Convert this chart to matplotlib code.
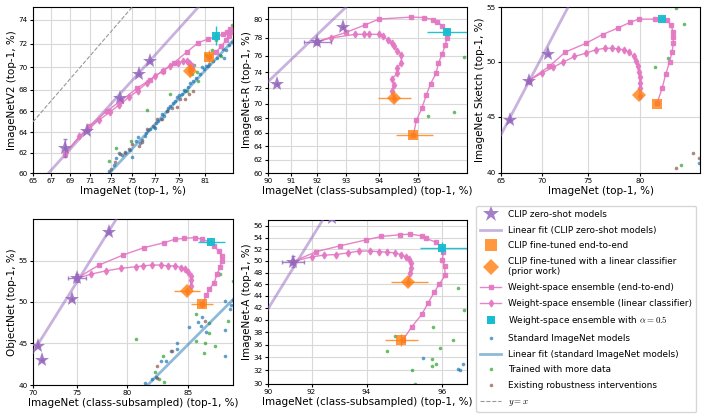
import numpy as np
import matplotlib
matplotlib.use("Agg")
from matplotlib import pyplot as plt
from matplotlib.lines import Line2D

# ---------------- data ----------------
# ImageNetV2 vs ImageNet
v2_zs_x = [68.4, 70.7, 73.9, 75.6, 76.6]
v2_zs_y = [62.5, 64.1, 67.2, 69.4, 70.5]
v2_zs_xerr = [0.1, 0, 0, 0, 0]
v2_zs_yerr = [0.9, 0, 0, 0, 0]
v2_e2e_x = [68.4, 70.9, 72.6, 74.0, 75.4, 76.6, 77.7, 78.6, 79.6, 80.5, 81.2, 81.8, 82.3, 82.6, 82.8, 82.8, 82.7, 82.5, 82.2, 81.8, 81.3]
v2_e2e_y = [61.9, 64.6, 66.0, 67.0, 68.1, 68.9, 69.7, 70.4, 71.3, 72.1, 72.4, 72.6, 72.8, 73.0, 73.2, 73.0, 72.7, 72.3, 71.8, 71.3, 70.9]
v2_lin_x = [68.4, 69.9, 70.9, 71.9, 72.9, 73.8, 74.7, 75.5, 76.3, 77.0, 77.7, 78.3, 78.9, 79.3, 79.6, 79.8, 79.9, 80.0, 80.0, 79.9, 79.9]
v2_lin_y = [61.9, 63.6, 64.4, 65.2, 65.9, 66.6, 67.3, 67.9, 68.6, 69.2, 69.7, 70.1, 70.4, 70.5, 70.5, 70.4, 70.3, 70.1, 69.9, 69.8, 69.7]
v2_ft_e2e = [81.3, 70.9, 0.2, 0.6]      # x, y, xerr, yerr
v2_ft_lin = [79.9, 69.7, 0.2, 0.6]
v2_wise = [81.8, 72.7, 0.15, 0.8]
v2_std_x = [72.8, 73.3, 73.5, 73.8, 74.1, 74.3, 74.8, 75.3, 75.5, 75.7, 75.9, 76.1, 76.2, 76.4, 76.6, 76.9, 77.1, 77.3, 77.5,
            77.6, 77.8, 78.0, 78.1, 78.3, 78.5, 78.7, 78.8, 79.0, 79.2, 79.4, 79.5, 79.7, 79.9, 80.1, 80.3, 80.6, 80.9, 81.1,
            81.3, 81.6, 81.9, 82.1, 82.3, 82.5, 82.7, 82.9, 80.8, 81.2, 82.4, 75.0, 77.0]
v2_std_y = [60.2, 60.8, 61.5, 62.0, 61.8, 62.1, 62.3, 63.2, 63.5, 63.0, 63.3, 63.6, 63.9, 64.2, 64.3, 64.5, 64.9, 65.1, 65.3,
            65.7, 65.6, 66.0, 66.3, 66.5, 66.8, 67.0, 67.3, 67.5, 67.6, 68.0, 67.9, 68.2, 68.6, 68.8, 69.0, 69.4, 69.8, 70.1,
            70.3, 70.5, 70.8, 71.1, 71.6, 71.5, 71.9, 72.2, 70.0, 70.1, 70.8, 61.6, 64.4]
v2_more_x = [72.8, 73.5, 74.9, 76.3, 78.3, 79.6, 80.2, 80.4, 80.5, 80.0, 81.1, 81.5, 82.2, 82.9, 81.8]
v2_more_y = [61.2, 62.5, 63.2, 66.1, 67.6, 67.9, 70.2, 69.6, 68.8, 69.4, 71.1, 71.5, 71.0, 73.6, 72.3]
v2_rob_x = [73.0, 73.4, 73.9, 74.3, 74.7, 75.0, 75.6, 75.9, 76.3, 76.8, 77.2, 77.6, 78.0, 78.4, 78.8, 79.1, 79.5, 79.8, 80.1]
v2_rob_y = [60.4, 61.1, 61.9, 62.0, 62.4, 62.9, 62.7, 63.1, 64.3, 64.6, 65.3, 65.3, 66.0, 66.3, 66.4, 67.1, 67.1, 67.6, 67.9]
v2_fit_clip = [0.957, -0.259]   # slope, intercept in logit space
v2_fit_std = [0.927, -0.5115]

# ImageNet-R vs ImageNet (class-subsampled)
r_zs_x = [90.4, 92.0, 92.9]
r_zs_y = [72.6, 77.6, 79.2]
r_zs_xerr = [0, 0.5, 0]
r_zs_yerr = [0, 0.3, 0]
r_e2e_x = [92.0, 93.0, 93.6, 94.0, 94.85, 95.15, 95.35, 95.45, 95.55, 95.65, 95.65, 95.62, 95.55, 95.47, 95.42, 95.3, 95.2, 95.1, 94.97, 94.9]
r_e2e_y = [77.6, 78.6, 79.4, 80.0, 80.2, 80.15, 79.95, 79.7, 79.3, 78.8, 78.0, 77.2, 76.2, 75.1, 73.9, 72.6, 71.1, 69.4, 67.7, 65.7]
r_lin_x = [92.0, 92.5, 93.3, 93.55, 93.7, 94.0, 94.1, 94.25, 94.35, 94.4, 94.5, 94.6, 94.6, 94.5, 94.5, 94.35, 94.4, 94.35, 94.4]
r_lin_y = [77.6, 78.0, 78.4, 78.4, 78.4, 78.4, 78.2, 77.8, 77.4, 77.1, 76.6, 76.1, 75.2, 74.6, 73.9, 73.2, 72.4, 71.7, 70.8]
r_ft_e2e = [94.9, 65.6, 0.45, 0.3]
r_ft_lin = [94.4, 70.8, 0.43, 0.3]
r_wise = [95.65, 78.7, 0.43, 0.3]
r_std_x, r_std_y = [], []
r_more_x = [96.0, 95.25, 95.8]
r_more_y = [75.8, 68.3, 68.9]
r_rob_x, r_rob_y = [], []
r_fit_clip = [1.221, -1.696]

# ImageNet Sketch vs ImageNet
sk_zs_x = [66.1, 68.4, 70.7]
sk_zs_y = [44.7, 48.3, 50.7]
sk_zs_xerr = [0, 0, 0]
sk_zs_yerr = [0, 0, 0]
sk_e2e_x = [68.4, 70.8, 72.6, 74.8, 76.5, 78.0, 79.1, 79.9, 81.3, 81.9, 82.3, 82.6, 82.8, 82.8, 82.8, 82.7, 82.5, 82.2, 81.9, 81.5]
sk_e2e_y = [48.3, 49.6, 50.9, 51.7, 52.5, 53.1, 53.6, 53.9, 53.9, 53.9, 53.8, 53.4, 52.7, 52.3, 51.7, 50.9, 50.0, 48.9, 47.6, 46.3]
sk_lin_x = [68.4, 70.0, 71.2, 72.4, 73.6, 74.8, 75.8, 76.7, 77.4, 78.0, 78.6, 79.05, 79.45, 79.65, 79.8, 79.9, 80.0, 80.0, 80.0, 80.0]
sk_lin_y = [48.3, 49.0, 49.5, 50.0, 50.5, 50.8, 51.1, 51.25, 51.25, 51.2, 51.1, 50.9, 50.5, 50.1, 49.6, 49.1, 48.6, 48.1, 47.6, 46.9]
sk_ft_e2e = [81.5, 46.2, 0, 0]
sk_ft_lin = [79.9, 47.0, 0, 0]
sk_wise = [81.9, 53.9, 0, 0]
sk_std_x = [84.7]
sk_std_y = [40.9]
sk_more_x = [83.0, 83.6, 82.4, 81.3, 83.4]
sk_more_y = [54.9, 53.5, 50.4, 49.5, 40.7]
sk_rob_x = [83.0, 84.3, 84.7]
sk_rob_y = [40.4, 41.8, 41.3]
sk_fit_clip = [1.2565, -1.0435]

# ObjectNet vs ImageNet (class-subsampled)
on_zs_x = [70.6, 71.1, 74.5, 75.0, 78.3]
on_zs_y = [44.7, 43.0, 50.4, 52.9, 58.5]
on_zs_xerr = [0, 0, 0, 1.0, 0]
on_zs_yerr = [0, 0, 0, 0.5, 0]
on_e2e_x = [75.0, 77.3, 79.6, 81.5, 83.2, 84.0, 84.7, 85.5, 86.0, 86.5, 86.8, 87.1, 87.3, 87.3, 87.2, 87.0, 86.8, 86.5, 86.3, 86.0]
on_e2e_y = [52.9, 54.5, 55.7, 56.6, 57.2, 57.6, 57.7, 57.8, 57.6, 57.3, 56.8, 56.2, 55.6, 55.0, 54.3, 53.4, 52.3, 51.6, 50.8, 49.7]
on_lin_x = [75.0, 76.5, 78.0, 79.4, 80.8, 81.4, 82.2, 82.9, 83.5, 84.0, 84.5, 84.8, 85.0, 85.2, 85.2, 85.2, 84.9]
on_lin_y = [52.9, 53.4, 53.8, 54.1, 54.3, 54.4, 54.5, 54.5, 54.4, 54.4, 54.2, 54.0, 53.6, 53.2, 52.7, 52.0, 51.3]
on_ft_e2e = [86.0, 49.7, 0.75, 0.4]
on_ft_lin = [84.9, 51.3, 0.95, 0.3]
on_wise = [86.6, 57.3, 0.9, 0.4]
on_std_x = [81.6, 82.2, 82.5, 82.9, 83.3, 83.7, 84.2, 84.2, 85.1, 85.7, 86.0, 86.3, 87.5, 87.9, 87.8, 88.0, 87.5, 87.5, 85.9]
on_std_y = [40.2, 40.7, 40.9, 42.8, 42.8, 44.0, 44.3, 45.0, 47.0, 47.6, 48.2, 46.3, 50.1, 49.6, 49.2, 50.3, 46.6, 43.5, 47.1]
on_more_x = [80.8, 83.1, 82.4, 82.8, 83.2, 85.6, 86.5, 85.6, 86.2, 86.1, 86.9, 87.7, 87.2, 88.0, 86.5]
on_more_y = [45.5, 43.4, 41.5, 40.7, 40.4, 48.5, 46.2, 45.2, 45.0, 43.8, 44.7, 47.7, 53.4, 52.6, 47.4]
on_rob_x = [82.6, 82.6, 83.8, 86.2]
on_rob_y = [42.2, 40.8, 44.0, 47.7]
on_fit_clip = [1.362, -1.399]
on_fit_std = [0.855, -1.6915]

# ImageNet-A vs ImageNet (class-subsampled)
a_zs_x = [91.2, 92.8]
a_zs_y = [49.9, 57.3]
a_zs_xerr = [0.5, 0]
a_zs_yerr = [1.0, 0]
a_e2e_x = [91.2, 92.2, 93.1, 93.97, 94.45, 94.98, 95.25, 95.53, 95.63, 95.86, 96.0, 96.02, 96.0, 96.05, 96.06, 95.93, 95.82, 95.68, 95.53, 95.28, 95.05]
a_e2e_y = [49.9, 51.6, 52.6, 53.6, 54.2, 54.5, 54.6, 54.3, 53.9, 53.2, 52.3, 51.5, 50.1, 49.1, 47.5, 46.0, 44.6, 42.8, 40.9, 38.8, 36.7]
a_lin_x = [91.2, 92.0, 92.5, 92.95, 93.4, 93.75, 94.1, 94.37, 94.62, 94.83, 95.0, 95.13, 95.22, 95.27, 95.26, 95.23, 95.2]
a_lin_y = [49.9, 50.7, 51.0, 51.1, 51.4, 51.7, 51.7, 51.6, 51.5, 51.4, 51.1, 50.7, 50.3, 49.6, 48.7, 47.9, 46.4]
a_ft_e2e = [95.0, 36.7, 0.45, 1.0]
a_ft_lin = [95.2, 46.4, 0.47, 0.5]
a_wise = [96.0, 52.2, 0.5, 1.0]
a_std_x = [95.55, 96.33, 96.36, 96.42]
a_std_y = [33.9, 32.2, 32.1, 32.9]
a_more_x = [94.63, 94.85, 95.3, 95.37, 95.8, 95.78, 95.77, 95.86, 95.95, 96.22, 96.33, 96.45]
a_more_y = [35.0, 37.3, 32.1, 30.0, 38.9, 33.7, 32.7, 33.0, 35.5, 36.7, 45.4, 41.6]
a_rob_x, a_rob_y = [], []
a_fit_clip = [1.990, -4.703]

# ---------------- styling ----------------
C_PURPLE = '#9467bd'
C_ORANGE = '#ff7f0e'
C_PINK = '#e377c2'
C_CYAN = '#17becf'
C_BLUE = '#1f77b4'
C_GREEN = '#2ca02c'
C_BROWN = '#8c564b'

plt.rcParams['font.family'] = 'DejaVu Sans'
plt.rcParams['font.size'] = 7
plt.rcParams['mathtext.fontset'] = 'cm'


def fwd(p):
    p = np.clip(np.asarray(p, dtype=float), 1e-3, 100 - 1e-3)
    return np.log(p / (100 - p))


def inv(z):
    return 100.0 / (1.0 + np.exp(-np.asarray(z, dtype=float)))


panels = [
    dict(pos=[33, 7, 200, 166], xlabel='ImageNet (top-1, %)', ylabel='ImageNetV2 (top-1, %)',
         xlim=(65, 83), ylim=(60, 75), xt=list(range(65, 82, 2)), yt=list(range(60, 75, 2)),
         zs=(v2_zs_x, v2_zs_y, v2_zs_xerr, v2_zs_yerr), e2e=(v2_e2e_x, v2_e2e_y), lin=(v2_lin_x, v2_lin_y),
         fte=v2_ft_e2e, ftl=v2_ft_lin, wise=v2_wise, std=(v2_std_x, v2_std_y), more=(v2_more_x, v2_more_y),
         rob=(v2_rob_x, v2_rob_y), fit_clip=v2_fit_clip, fit_std=v2_fit_std, yx=True),
    dict(pos=[268, 7, 199, 166], xlabel='ImageNet (class-subsampled) (top-1, %)', ylabel='ImageNet-R (top-1, %)',
         xlim=(90, 96.05), ylim=(60, 81.2), xt=list(range(90, 96)), yt=list(range(60, 81, 2)),
         zs=(r_zs_x, r_zs_y, r_zs_xerr, r_zs_yerr), e2e=(r_e2e_x, r_e2e_y), lin=(r_lin_x, r_lin_y),
         fte=r_ft_e2e, ftl=r_ft_lin, wise=r_wise, std=(r_std_x, r_std_y), more=(r_more_x, r_more_y),
         rob=(r_rob_x, r_rob_y), fit_clip=r_fit_clip, fit_std=None, yx=False),
    dict(pos=[501, 7, 199, 166], xlabel='ImageNet (top-1, %)', ylabel='ImageNet Sketch (top-1, %)',
         xlim=(65, 84.8), ylim=(40, 55), xt=[65, 70, 75, 80], yt=[40, 45, 50, 55],
         zs=(sk_zs_x, sk_zs_y, sk_zs_xerr, sk_zs_yerr), e2e=(sk_e2e_x, sk_e2e_y), lin=(sk_lin_x, sk_lin_y),
         fte=sk_ft_e2e, ftl=sk_ft_lin, wise=sk_wise, std=(sk_std_x, sk_std_y), more=(sk_more_x, sk_more_y),
         rob=(sk_rob_x, sk_rob_y), fit_clip=sk_fit_clip, fit_std=None, yx=False),
    dict(pos=[33, 219, 200, 166], xlabel='ImageNet (class-subsampled) (top-1, %)', ylabel='ObjectNet (top-1, %)',
         xlim=(70, 88), ylim=(40, 60), xt=[70, 75, 80, 85], yt=[40, 45, 50, 55],
         zs=(on_zs_x, on_zs_y, on_zs_xerr, on_zs_yerr), e2e=(on_e2e_x, on_e2e_y), lin=(on_lin_x, on_lin_y),
         fte=on_ft_e2e, ftl=on_ft_lin, wise=on_wise, std=(on_std_x, on_std_y), more=(on_more_x, on_more_y),
         rob=(on_rob_x, on_rob_y), fit_clip=on_fit_clip, fit_std=on_fit_std, yx=False),
    dict(pos=[268, 220, 199, 164], xlabel='ImageNet (class-subsampled) (top-1, %)', ylabel='ImageNet-A (top-1, %)',
         xlim=(90, 96.5), ylim=(30, 57), xt=[90, 92, 94, 96], yt=list(range(30, 57, 2)),
         zs=(a_zs_x, a_zs_y, a_zs_xerr, a_zs_yerr), e2e=(a_e2e_x, a_e2e_y), lin=(a_lin_x, a_lin_y),
         fte=a_ft_e2e, ftl=a_ft_lin, wise=a_wise, std=(a_std_x, a_std_y), more=(a_more_x, a_more_y),
         rob=(a_rob_x, a_rob_y), fit_clip=a_fit_clip, fit_std=None, yx=False),
]

W, H = 706, 418
fig = plt.figure(figsize=(W / 100, H / 100), dpi=100)

for p in panels:
    l, t, w, h = p['pos']
    ax = fig.add_axes([l / W, 1 - (t + h) / H, w / W, h / H])
    ax.set_xscale('function', functions=(fwd, inv))
    ax.set_yscale('function', functions=(fwd, inv))
    ax.set_xlim(*p['xlim'])
    ax.set_ylim(*p['ylim'])
    ax.set_xticks(p['xt'])
    ax.set_yticks(p['yt'])
    ax.set_xticks([], minor=True)
    ax.set_yticks([], minor=True)
    ax.set_xticklabels([str(v) for v in p['xt']])
    ax.set_yticklabels([str(v) for v in p['yt']])
    ax.tick_params(labelsize=5.2, length=2, pad=1.5)
    ax.grid(True, color='#d9d9d9', lw=0.8, zorder=0)
    ax.set_axisbelow(True)
    ax.set_xlabel(p['xlabel'], fontsize=7.5, labelpad=1.5)
    ax.set_ylabel(p['ylabel'], fontsize=7.5, labelpad=1.5)

    xs = np.linspace(p['xlim'][0], p['xlim'][1], 300)
    # reference points
    ax.plot(p['std'][0], p['std'][1], 'o', color=C_BLUE, ms=2.6, alpha=0.7, mew=0, zorder=2)
    ax.plot(p['more'][0], p['more'][1], 'o', color=C_GREEN, ms=2.6, alpha=0.7, mew=0, zorder=2)
    ax.plot(p['rob'][0], p['rob'][1], 'o', color=C_BROWN, ms=2.6, alpha=0.7, mew=0, zorder=2)
    if p['fit_std'] is not None:
        a, b = p['fit_std']
        ax.plot(xs, inv(a * fwd(xs) + b), color=C_BLUE, lw=2, alpha=0.5, zorder=3)
    a, b = p['fit_clip']
    ax.plot(xs, inv(a * fwd(xs) + b), color=C_PURPLE, lw=2, alpha=0.5, zorder=3)
    if p['yx']:
        ax.plot(xs, xs, '--', color='#999999', lw=0.8, zorder=3)

    # weight-space ensembles
    ax.plot(p['e2e'][0], p['e2e'][1], '-s', color=C_PINK, ms=3.5, lw=1, alpha=0.9, zorder=5)
    ax.plot(p['lin'][0], p['lin'][1], '-d', color=C_PINK, ms=3.5, lw=1, alpha=0.9, zorder=5)

    # zero-shot CLIP
    zx, zy, zxe, zye = p['zs']
    ax.errorbar(zx, zy, xerr=zxe, yerr=zye, fmt='none', ecolor=C_PURPLE, elinewidth=1, capsize=1.5,
                alpha=0.8, zorder=6)
    ax.plot(zx, zy, '*', color=C_PURPLE, ms=11, alpha=0.85, mew=0, zorder=6)

    # fine-tuned
    fx, fy, fxe, fye = p['fte']
    ax.errorbar([fx], [fy], xerr=[fxe], yerr=[fye], fmt='s', color=C_ORANGE, ms=7, alpha=0.8,
                elinewidth=1, capsize=1.5, mew=0, zorder=7)
    fx, fy, fxe, fye = p['ftl']
    ax.errorbar([fx], [fy], xerr=[fxe], yerr=[fye], fmt='D', color=C_ORANGE, ms=7, alpha=0.8,
                elinewidth=1, capsize=1.5, mew=0, zorder=7)
    fx, fy, fxe, fye = p['wise']
    ax.errorbar([fx], [fy], xerr=[fxe], yerr=[fye], fmt='s', color=C_CYAN, ms=5.5, alpha=0.95,
                elinewidth=1, capsize=1.5, mew=0, zorder=8)

handles = [
    Line2D([], [], ls='none', marker='*', ms=12, color=C_PURPLE, alpha=0.85, mew=0),
    Line2D([], [], color=C_PURPLE, lw=2, alpha=0.5),
    Line2D([], [], ls='none', marker='s', ms=8.5, color=C_ORANGE, alpha=0.8, mew=0),
    Line2D([], [], ls='none', marker='D', ms=8.5, color=C_ORANGE, alpha=0.8, mew=0),
    Line2D([], [], color=C_PINK, marker='s', ms=3.5, lw=1, alpha=0.9),
    Line2D([], [], color=C_PINK, marker='d', ms=3.5, lw=1, alpha=0.9),
    Line2D([], [], ls='none', marker='s', ms=6, color=C_CYAN, mew=0),
    Line2D([], [], ls='none', marker='o', ms=2.6, color=C_BLUE, alpha=0.7, mew=0),
    Line2D([], [], color=C_BLUE, lw=2, alpha=0.5),
    Line2D([], [], ls='none', marker='o', ms=2.6, color=C_GREEN, alpha=0.7, mew=0),
    Line2D([], [], ls='none', marker='o', ms=2.6, color=C_BROWN, alpha=0.7, mew=0),
    Line2D([], [], color='#999999', lw=0.8, ls='--'),
]
labels = [
    'CLIP zero-shot models',
    'Linear fit (CLIP zero-shot models)',
    'CLIP fine-tuned end-to-end',
    'CLIP fine-tuned with a linear classifier\n(prior work)',
    'Weight-space ensemble (end-to-end)',
    'Weight-space ensemble (linear classifier)',
    r'Weight-space ensemble with $\alpha = 0.5$',
    'Standard ImageNet models',
    'Linear fit (standard ImageNet models)',
    'Trained with more data',
    'Existing robustness interventions',
    r'$y = x$',
]
fig.legend(handles, labels, loc='upper left', bbox_to_anchor=(476 / W, 1 - 206 / H), fontsize=6.4,
           frameon=True, fancybox=True, edgecolor='#cccccc', handlelength=2.4, labelspacing=0.75,
           borderpad=0.45, handletextpad=0.8, borderaxespad=0)

fig.savefig('out.png', dpi=100)
